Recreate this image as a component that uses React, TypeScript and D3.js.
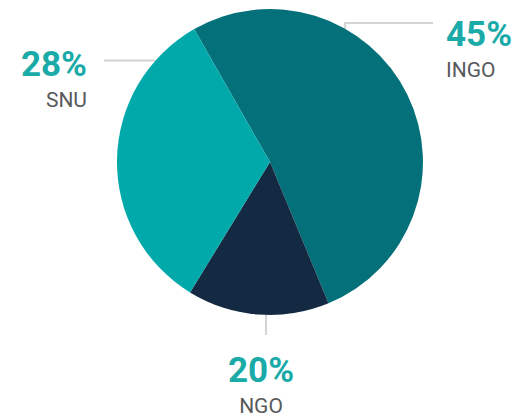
import React from 'react';
import * as d3 from 'd3';

// slice order is clockwise from the start angle
const categories = ['INGO', 'NGO', 'SNU'];
const shares = [52, 15, 33]; // angular share of each slice
const percentLabels = ['45%', '20%', '28%'];
const colors = ['#04717a', '#142a43', '#02a9aa'];

const width = 526;
const height = 419;
const cx = 270;
const cy = 162;
const radius = 153;
const startDeg = -29.7;

// label placement per slice: leader angle on rim, elbow / end of line, text anchor
const layout = [
  { leaderDeg: 29.4, path: (p: number[]) => [p, [p[0], 23], [433, 23]], tx: 446, ty: 46, anchor: 'start' },
  { leaderDeg: 181.5, path: (p: number[]) => [p, [p[0], 335]], tx: 261, ty: 382, anchor: 'middle' },
  { leaderDeg: -48.5, path: (p: number[]) => [p, [104, p[1]]], tx: 87, ty: 76, anchor: 'end' },
];

const App = () => {
  const pie = d3
    .pie<number>()
    .sort(null)
    .startAngle((startDeg * Math.PI) / 180)
    .endAngle(((startDeg + 360) * Math.PI) / 180);
  const arcs = pie(shares);
  const arc = d3.arc<d3.PieArcDatum<number>>().innerRadius(0).outerRadius(radius);
  const line = d3.line();

  return (
    <svg width={width} height={height} style={{ position: 'absolute', left: 0, top: 0 }}>
      <g fill="none" stroke="#d3d4d6" strokeWidth={2}>
        {layout.map((l, i) => {
          const a = (l.leaderDeg * Math.PI) / 180;
          const p = [cx + radius * Math.sin(a), cy - radius * Math.cos(a)];
          return <path key={i} d={line(l.path(p) as [number, number][]) || ''} />;
        })}
      </g>
      <g transform={`translate(${cx},${cy})`}>
        {arcs.map((d, i) => (
          <path key={categories[i]} d={arc(d) || ''} fill={colors[i]} />
        ))}
      </g>
      {layout.map((l, i) => (
        <g key={i} fontFamily="Roboto, sans-serif" textAnchor={l.anchor}>
          <text x={l.tx} y={l.ty} fontSize={35} fontWeight={700} fill="#1aaaa8">
            {percentLabels[i]}
          </text>
          <text x={l.tx} y={l.ty + 31} fontSize={21} fill="#58595b">
            {categories[i]}
          </text>
        </g>
      ))}
    </svg>
  );
};

export default App;
